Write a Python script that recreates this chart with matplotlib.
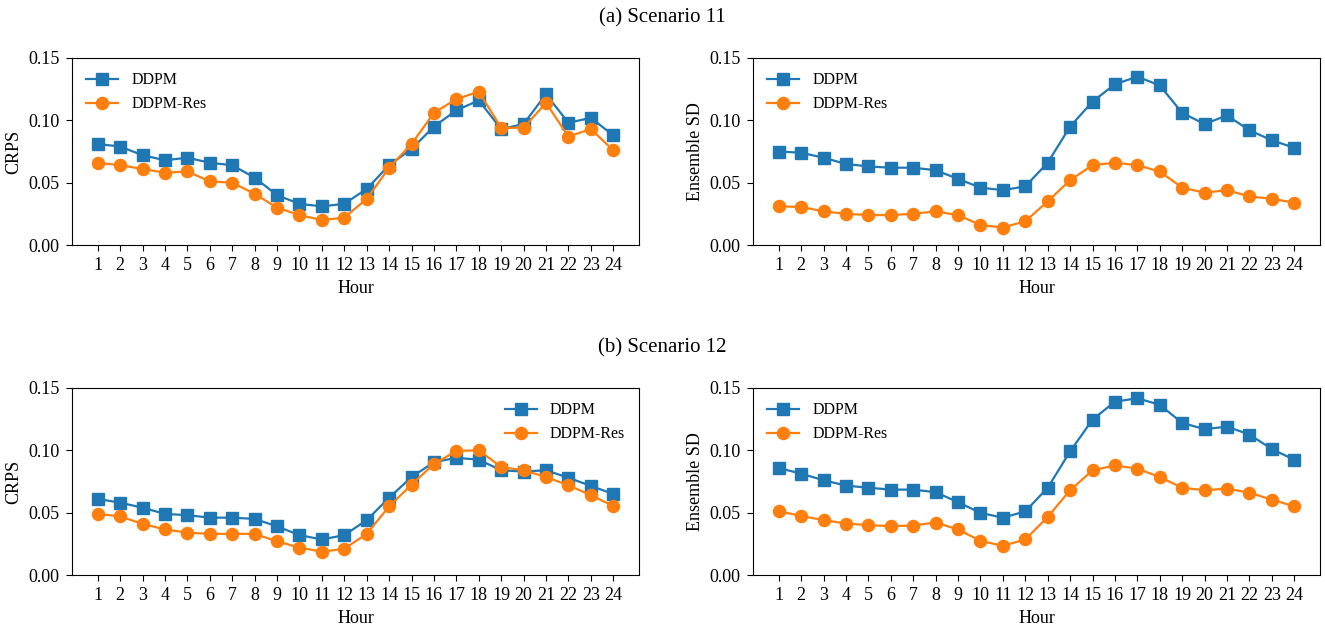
import numpy as np
import matplotlib
matplotlib.use('Agg')
from matplotlib import pyplot as plt

plt.rcParams['font.family'] = ['Liberation Serif', 'DejaVu Serif']
plt.rcParams['font.size'] = 13

hours = list(range(1, 25))

# scenario 11
crps_ddpm_11 = [0.081, 0.079, 0.072, 0.068, 0.070, 0.066, 0.064, 0.054, 0.040, 0.033, 0.031, 0.033,
                0.045, 0.064, 0.077, 0.095, 0.108, 0.116, 0.093, 0.097, 0.121, 0.098, 0.102, 0.088]
crps_res_11 = [0.066, 0.064, 0.061, 0.058, 0.059, 0.051, 0.050, 0.041, 0.030, 0.024, 0.020, 0.022,
               0.037, 0.062, 0.081, 0.106, 0.117, 0.123, 0.094, 0.094, 0.114, 0.087, 0.093, 0.076]
sd_ddpm_11 = [0.075, 0.074, 0.070, 0.065, 0.063, 0.062, 0.062, 0.060, 0.053, 0.046, 0.044, 0.047,
              0.066, 0.095, 0.115, 0.129, 0.135, 0.128, 0.106, 0.097, 0.104, 0.092, 0.084, 0.078]
sd_res_11 = [0.031, 0.0305, 0.027, 0.025, 0.024, 0.024, 0.025, 0.027, 0.024, 0.016, 0.014, 0.019,
             0.035, 0.052, 0.064, 0.066, 0.064, 0.059, 0.046, 0.042, 0.044, 0.039, 0.037, 0.034]

# scenario 12
crps_ddpm_12 = [0.061, 0.058, 0.054, 0.049, 0.048, 0.046, 0.046, 0.045, 0.039, 0.032, 0.0285, 0.032,
                0.044, 0.062, 0.0785, 0.0905, 0.094, 0.0925, 0.084, 0.083, 0.084, 0.078, 0.0715, 0.065]
crps_res_12 = [0.049, 0.047, 0.041, 0.0365, 0.034, 0.033, 0.033, 0.033, 0.027, 0.022, 0.0187, 0.021,
               0.033, 0.055, 0.0725, 0.089, 0.0995, 0.100, 0.0866, 0.084, 0.0786, 0.072, 0.064, 0.0554]
sd_ddpm_12 = [0.0858, 0.0813, 0.076, 0.0717, 0.070, 0.0685, 0.0685, 0.0664, 0.0584, 0.0498, 0.046, 0.051,
              0.070, 0.0991, 0.1247, 0.139, 0.1418, 0.1365, 0.122, 0.117, 0.119, 0.1127, 0.101, 0.0925]
sd_res_12 = [0.0512, 0.0474, 0.044, 0.0413, 0.040, 0.0392, 0.0397, 0.0421, 0.0365, 0.0274, 0.0234, 0.0285,
             0.0466, 0.068, 0.0839, 0.0879, 0.0853, 0.0786, 0.070, 0.068, 0.0693, 0.066, 0.0605, 0.055]

W, H = 1325, 625
fig = plt.figure(figsize=(W / 100, H / 100), dpi=100)


def panel(rect, ddpm, res, ylabel, legend_loc):
    ax = fig.add_axes(rect)
    ax.plot(hours, ddpm, marker='s', color='tab:blue', lw=1.6, markersize=8.7, label='DDPM')
    ax.plot(hours, res, marker='o', color='tab:orange', lw=1.6, markersize=8.7, label='DDPM-Res')
    ax.set_ylim(0, 0.15)
    ax.set_yticks([0.0, 0.05, 0.10, 0.15])
    ax.set_xticks(hours)
    ax.tick_params(length=4.5, pad=4.5)
    ax.set_xlabel('Hour')
    ax.set_ylabel(ylabel)
    ax.legend(loc=legend_loc, frameon=False, fontsize=11.5)
    return ax


lx, rx, w = 72 / W, 753 / W, 567 / W
top_b, bot_b, h = 1 - 245 / H, 1 - 575 / H, 187 / H

panel([lx, top_b, w, h], crps_ddpm_11, crps_res_11, 'CRPS', 'upper left')
panel([rx, top_b, w, h], sd_ddpm_11, sd_res_11, 'Ensemble SD', 'upper left')
panel([lx, bot_b, w, h], crps_ddpm_12, crps_res_12, 'CRPS', 'upper right')
panel([rx, bot_b, w, h], sd_ddpm_12, sd_res_12, 'Ensemble SD', 'upper left')

fig.text(0.5, 1 - 18 / H, '(a) Scenario 11', ha='center', va='center', fontsize=15)
fig.text(0.5, 1 - 348 / H, '(b) Scenario 12', ha='center', va='center', fontsize=15)

plt.savefig('out.png', dpi=100)
